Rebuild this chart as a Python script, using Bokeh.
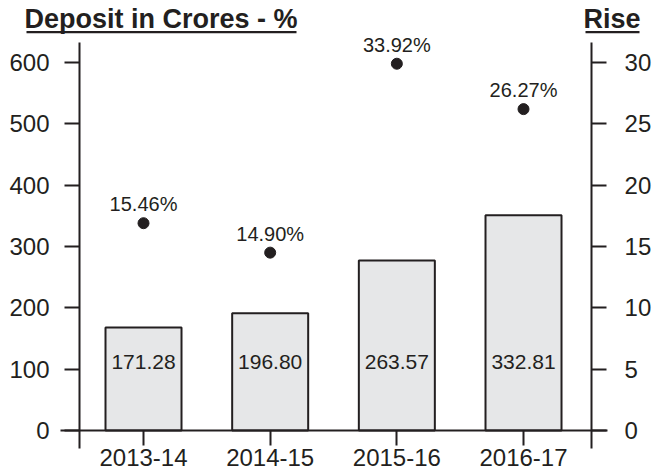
from bokeh.plotting import figure
from bokeh.models import (LinearAxis, Range1d, FixedTicker, Label, BoxAnnotation,
                          ColumnDataSource)
from bokeh.core.properties import value
from bokeh.embed import file_html
from bokeh.resources import INLINE

# ---- data ----
years = ["2013-14", "2014-15", "2015-16", "2016-17"]
deposit_labels = ["171.28", "196.80", "263.57", "332.81"]
deposit_bar = [168, 191, 277, 351]          # bar heights as drawn (Crores)
rise_labels = ["15.46%", "14.90%", "33.92%", "26.27%"]
rise_dot = [16.9, 14.5, 29.9, 26.2]          # dot positions as drawn (%)
left_ticks = [0, 100, 200, 300, 400, 500, 600]
right_ticks = [0, 5, 10, 15, 20, 25, 30]

INK = "#231f20"
FONT = "Liberation Sans"

xs = list(range(len(years)))
src = ColumnDataSource(dict(x=xs, bar=deposit_bar, blab=deposit_labels,
                            dot=rise_dot, dlab=rise_labels))

W, H = 655, 473
p = figure(width=W, height=H, min_border=0, toolbar_location=None,
           x_axis_type=None, y_axis_type=None, output_backend="svg",
           x_range=Range1d(-1.129, 4.042), y_range=Range1d(-70.1, 701.1),
           outline_line_color=None, background_fill_color="white")
p.extra_y_ranges = {"rise": Range1d(-70.1 / 20, 701.1 / 20)}

# bars
p.vbar(x="x", top="bar", bottom=0, width=0.6, source=src,
       fill_color="#e6e7e8", line_color=INK, line_width=2)
p.text(x="x", y=112, text="blab", source=src, text_align="center",
       text_baseline="middle", text_font=value(FONT), text_font_size="21px",
       text_color=INK)

# dots
p.scatter(x="x", y="dot", y_range_name="rise", source=src, size=11,
          fill_color=INK, line_color=INK)
p.text(x="x", y="dot", y_range_name="rise", text="dlab", source=src,
       text_align="center", text_baseline="middle", y_offset=-19,
       text_font=value(FONT), text_font_size="20px", text_color=INK)

def style(ax, standoff):
    ax.axis_line_color = INK
    ax.axis_line_width = 2
    ax.major_tick_line_color = INK
    ax.major_tick_line_width = 2
    ax.major_tick_out = 15
    ax.major_tick_in = 0
    ax.minor_tick_line_color = None
    ax.major_label_text_font = FONT
    ax.major_label_text_font_size = "24px"
    ax.major_label_text_color = INK
    ax.major_label_standoff = standoff

yl = LinearAxis(fixed_location=-0.505, bounds=(-29.3, 632.6),
                ticker=FixedTicker(ticks=left_ticks))
style(yl, 15)
p.add_layout(yl, "left")

yr = LinearAxis(y_range_name="rise", fixed_location=3.537,
                bounds=(-29.3 / 20, 632.6 / 20),
                ticker=FixedTicker(ticks=right_ticks))
style(yr, 18)
p.add_layout(yr, "right")

xa = LinearAxis(fixed_location=0, bounds=(-0.655, 3.663),
                ticker=FixedTicker(ticks=xs),
                major_label_overrides={i: y for i, y in zip(xs, years)})
style(xa, 3)
p.add_layout(xa, "below")

# titles (underlined)
for txt, x0, x1 in [("Deposit in Crores - %", 26, 296), ("Rise", 585, 639)]:
    p.add_layout(Label(x=x0 - 2, y=H - 18, x_units="screen", y_units="screen",
                       text=txt, text_font=FONT, text_font_size="27px",
                       text_font_style="bold", text_color=INK,
                       text_baseline="middle"))
    p.add_layout(BoxAnnotation(left=x0, right=x1, bottom=H - 32.7, top=H - 30.5,
                               left_units="screen", right_units="screen",
                               top_units="screen", bottom_units="screen",
                               fill_color=INK, fill_alpha=1, line_color=None))

open("out.html", "w").write(file_html(p, INLINE))
